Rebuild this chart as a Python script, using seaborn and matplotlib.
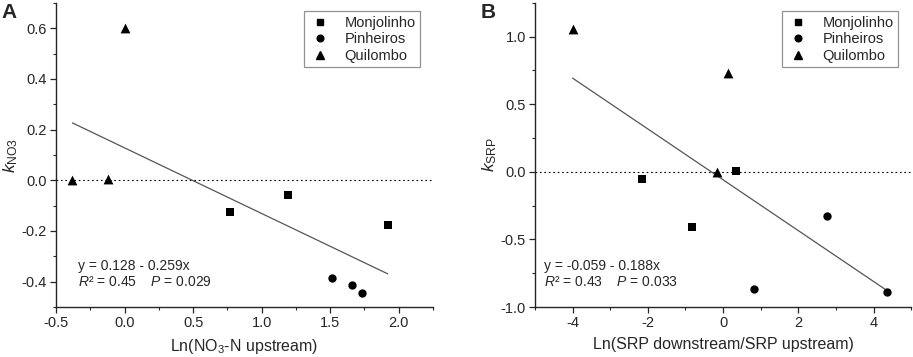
import numpy as np
import pandas as pd
import matplotlib
matplotlib.use("Agg")
import matplotlib.pyplot as plt
import seaborn as sns
from matplotlib.ticker import MultipleLocator
from matplotlib.lines import Line2D

sns.set_style("ticks")
plt.rcParams["font.family"] = ["Liberation Sans", "DejaVu Sans"]
plt.rcParams["mathtext.fontset"] = "custom"
plt.rcParams["mathtext.rm"] = "Liberation Sans"
plt.rcParams["mathtext.it"] = "Liberation Sans:italic"
plt.rcParams["axes.unicode_minus"] = False

rivers = ["Monjolinho", "Pinheiros", "Quilombo"]
markers = {"Monjolinho": "s", "Pinheiros": "o", "Quilombo": "^"}
msize = {"Monjolinho": 32, "Pinheiros": 36, "Quilombo": 50}

# panel A: k_NO3 vs Ln(NO3-N upstream)
a_river = ["Monjolinho"] * 3 + ["Pinheiros"] * 3 + ["Quilombo"] * 3
a_x = [0.77, 1.19, 1.92, 1.51, 1.66, 1.73, -0.38, -0.12, 0.0]
a_y = [-0.125, -0.058, -0.178, -0.385, -0.415, -0.443, 0.0, 0.005, 0.60]
a_fit = (0.128, -0.259)

# panel B: k_SRP vs Ln(SRP downstream/SRP upstream)
b_river = ["Monjolinho"] * 3 + ["Pinheiros"] * 3 + ["Quilombo"] * 3
b_x = [-2.15, -0.82, 0.33, 0.82, 2.75, 4.35, -4.0, 0.12, -0.15]
b_y = [-0.055, -0.405, 0.005, -0.87, -0.33, -0.89, 1.06, 0.73, 0.0]
b_fit = (-0.059, -0.188)

df_a = pd.DataFrame({"x": a_x, "y": a_y, "river": a_river})
df_b = pd.DataFrame({"x": b_x, "y": b_y, "river": b_river})

fig = plt.figure(figsize=(9.13, 3.57), dpi=100)
ax1 = fig.add_axes([0.0613, 0.140, 0.413, 0.852])
ax2 = fig.add_axes([0.586, 0.140, 0.412, 0.852])


def draw(ax, df, fit, xlim, ylim, xmaj, xmin, ymaj, ymin, xlabel, ylabel, stats, letter, txt_x):
    ax.axhline(0, color="black", lw=0.8, ls=(0, (1.5, 2.5)), zorder=1)
    xs = np.array([df["x"].min(), df["x"].max()])
    sns.lineplot(x=xs, y=fit[0] + fit[1] * xs, ax=ax, color="#555555", lw=0.9, zorder=2)
    for r in rivers:
        sub = df[df["river"] == r]
        sns.scatterplot(data=sub, x="x", y="y", marker=markers[r], color="black",
                        s=msize[r], linewidth=0, ax=ax, legend=False, zorder=3)
    ax.set_xlim(*xlim)
    ax.set_ylim(*ylim)
    ax.xaxis.set_major_locator(MultipleLocator(xmaj))
    ax.xaxis.set_minor_locator(MultipleLocator(xmin))
    ax.yaxis.set_major_locator(MultipleLocator(ymaj))
    ax.yaxis.set_minor_locator(MultipleLocator(ymin))
    ax.tick_params(which="major", direction="out", length=4, width=0.9, labelsize=10.5,
                   pad=2.5)
    ax.tick_params(which="minor", direction="out", length=2.5, width=0.8)
    sns.despine(ax=ax)
    for sp in ["left", "bottom"]:
        ax.spines[sp].set_linewidth(1.0)
    ax.set_xlabel(xlabel, fontsize=11.5, labelpad=5)
    ax.set_ylabel(ylabel, fontsize=12.5, labelpad=1)
    handles = [Line2D([], [], ls="none", marker=markers[r], color="black",
                      markersize=6 if r == "Quilombo" else 4.8)
               for r in rivers]
    leg = ax.legend(handles, rivers, loc="upper right", bbox_to_anchor=(0.965, 0.972),
                    fontsize=10.5, frameon=True, fancybox=False, handletextpad=0.9,
                    borderpad=0.3, labelspacing=0.18, handlelength=1.6,
                    borderaxespad=0)
    leg.get_frame().set_edgecolor("#777777")
    leg.get_frame().set_linewidth(0.9)
    ax.text(txt_x, 0.06, stats, transform=ax.transAxes, fontsize=10,
            va="bottom", ha="left", linespacing=1.2)
    ax.text(-0.145, 1.0, letter, transform=ax.transAxes, fontsize=15,
            fontweight="bold", va="top", ha="left")


draw(ax1, df_a, a_fit, (-0.5, 2.25), (-0.5, 0.7), 0.5, 0.25, 0.2, 0.1,
     "Ln(NO$_3$-N upstream)", r"$k_{\mathrm{NO3}}$",
     "y = 0.128 - 0.259x\n$R$² = 0.45    $P$ = 0.029", "A", 0.058)
draw(ax2, df_b, b_fit, (-5, 5), (-1.0, 1.25), 2, 1, 0.5, 0.25,
     "Ln(SRP downstream/SRP upstream)", r"$k_{\mathrm{SRP}}$",
     "y = -0.059 - 0.188x\n$R$² = 0.43    $P$ = 0.033", "B", 0.025)

fig.savefig("out.png", dpi=100)
